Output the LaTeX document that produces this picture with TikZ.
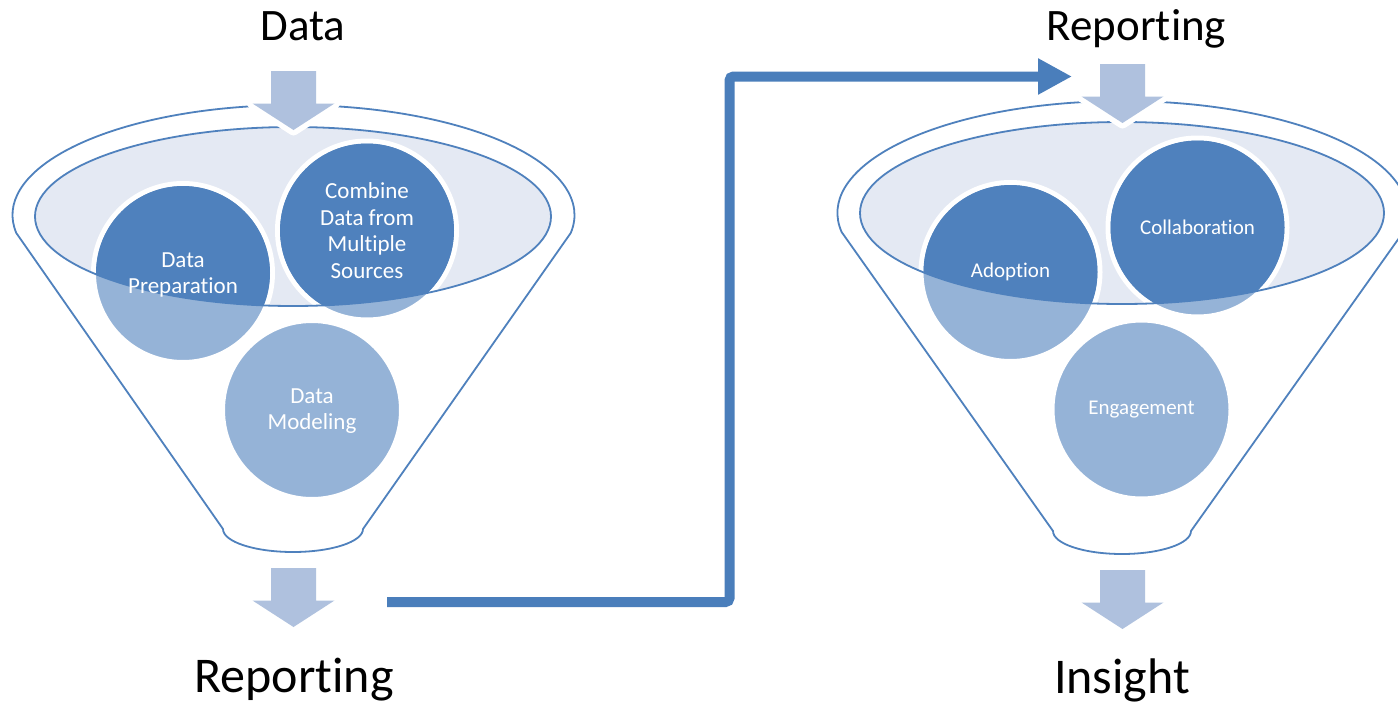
\documentclass[tikz,border=0pt]{standalone}
\usepackage{fontspec}
\setmainfont{Carlito}[Ligatures=NoCommon]
\usetikzlibrary{arrows.meta}

\definecolor{accent}{HTML}{4F81BD}
\definecolor{accentlight}{HTML}{95B3D7}
\definecolor{rimfill}{HTML}{E4E9F3}
\definecolor{arrowfill}{HTML}{AFC1DE}
\definecolor{linkblue}{HTML}{4A7EBB}

\begin{document}
\begin{tikzpicture}[x=1pt,y=-1pt,
  funnelline/.style={draw=accent, line width=1.8pt, line join=round},
  stagecircle/.style={circle, minimum size=179pt, inner sep=0pt,
    fill=accentlight, draw=white, line width=5pt},
  stagetext/.style={text=white, align=center, inner sep=0pt},
  lefttext/.style={stagetext, font=\fontsize{23}{26.5}\selectfont},
  righttext/.style={stagetext, font=\fontsize{21}{24}\selectfont},
  heading/.style={anchor=base, inner sep=0pt, font=\fontsize{45}{54}\selectfont},
  bigheading/.style={anchor=base, inner sep=0pt, font=\fontsize{50}{60}\selectfont},
  arrowbody/.style={fill=arrowfill,
    preaction={draw=white, line width=11pt, line join=round}},
  link/.style={draw=linkblue, line width=10pt, rounded corners=4pt,
    -{Triangle[length=34pt, width=34pt]}},
  pics/downarrow/.style={code={
    \path[arrowbody] (-22.5,0) -- (22.5,0) -- (22.5,32.5) -- (41,32.5)
      -- (0,59) -- (-41,32.5) -- (-22.5,32.5) -- cycle;}}
]
\clip (0,0) rectangle (1398,707);
\fill[white] (0,0) rectangle (1398,707);

% ---------------- left funnel ----------------
\draw[funnelline] (16.3,233) arc[start angle=170.6, end angle=369.4, x radius=281, y radius=110]
  -- (363,529) arc[start angle=0, end angle=180, x radius=70, y radius=23] -- cycle;
\fill[rimfill] (293,216.5) ellipse[x radius=258, y radius=89.5];

\node[stagecircle] (prep) at (183,273) {};
\node[stagecircle] (combine) at (367,230.5) {};
\node[stagecircle] (model) at (312,410) {};

\begin{scope}
  \clip (293,216.5) ellipse[x radius=258, y radius=89.5];
  \fill[accent] (prep.center) circle[radius=87];
  \fill[accent] (combine.center) circle[radius=87];
  \fill[accent] (model.center) circle[radius=87];
\end{scope}
\draw[funnelline] (293,216.5) ellipse[x radius=258, y radius=89.5];

\node[lefttext] (prep-t) at ([yshift=-2pt]prep.center) {Data\\Preparation};
\node[lefttext] (combine-t) at (combine.center) {Combine\\Data from\\Multiple\\Sources};
\node[lefttext] (model-t) at ([yshift=-1pt]model.center) {Data\\Modeling};

\pic at (293.5,71) {downarrow};
\pic at (293.5,568) {downarrow};

\node[heading] (in1) at (303,40) {Data};
\node[bigheading] (out1) at (294,692) {Reporting};

% ---------------- right funnel ----------------
\draw[funnelline] (841.6,232) arc[start angle=170.23, end angle=369.77, x radius=285, y radius=112]
  -- (1191,531) arc[start angle=0, end angle=180, x radius=69, y radius=23] -- cycle;
\fill[rimfill] (1122,213) ellipse[x radius=262, y radius=91];

\node[stagecircle] (adopt) at (1010.5,272) {};
\node[stagecircle] (collab) at (1197.5,227.5) {};
\node[stagecircle] (engage) at (1141.5,409.5) {};

\begin{scope}
  \clip (1122,213) ellipse[x radius=262, y radius=91];
  \fill[accent] (adopt.center) circle[radius=87];
  \fill[accent] (collab.center) circle[radius=87];
  \fill[accent] (engage.center) circle[radius=87];
\end{scope}
\draw[funnelline] (1122,213) ellipse[x radius=262, y radius=91];

\node[righttext] (adopt-t) at (adopt.center) {Adoption};
\node[righttext] (collab-t) at (collab.center) {Collaboration};
\node[righttext] (engage-t) at (engage.center) {Engagement};

\pic at (1122.5,64) {downarrow};
\pic at (1122.5,570) {downarrow};

\node[heading] (in2) at (1136.5,40) {Reporting};
\node[bigheading] (out2) at (1122,693) {Insight};

% ---------------- hand-over connector ----------------
\coordinate (linkstart) at (387,602);
\coordinate (linkend) at (1072,76.5);
\draw[link] (linkstart) -- (729.5,602) -- (729.5,76.5) -- (linkend);
\end{tikzpicture}
\end{document}
